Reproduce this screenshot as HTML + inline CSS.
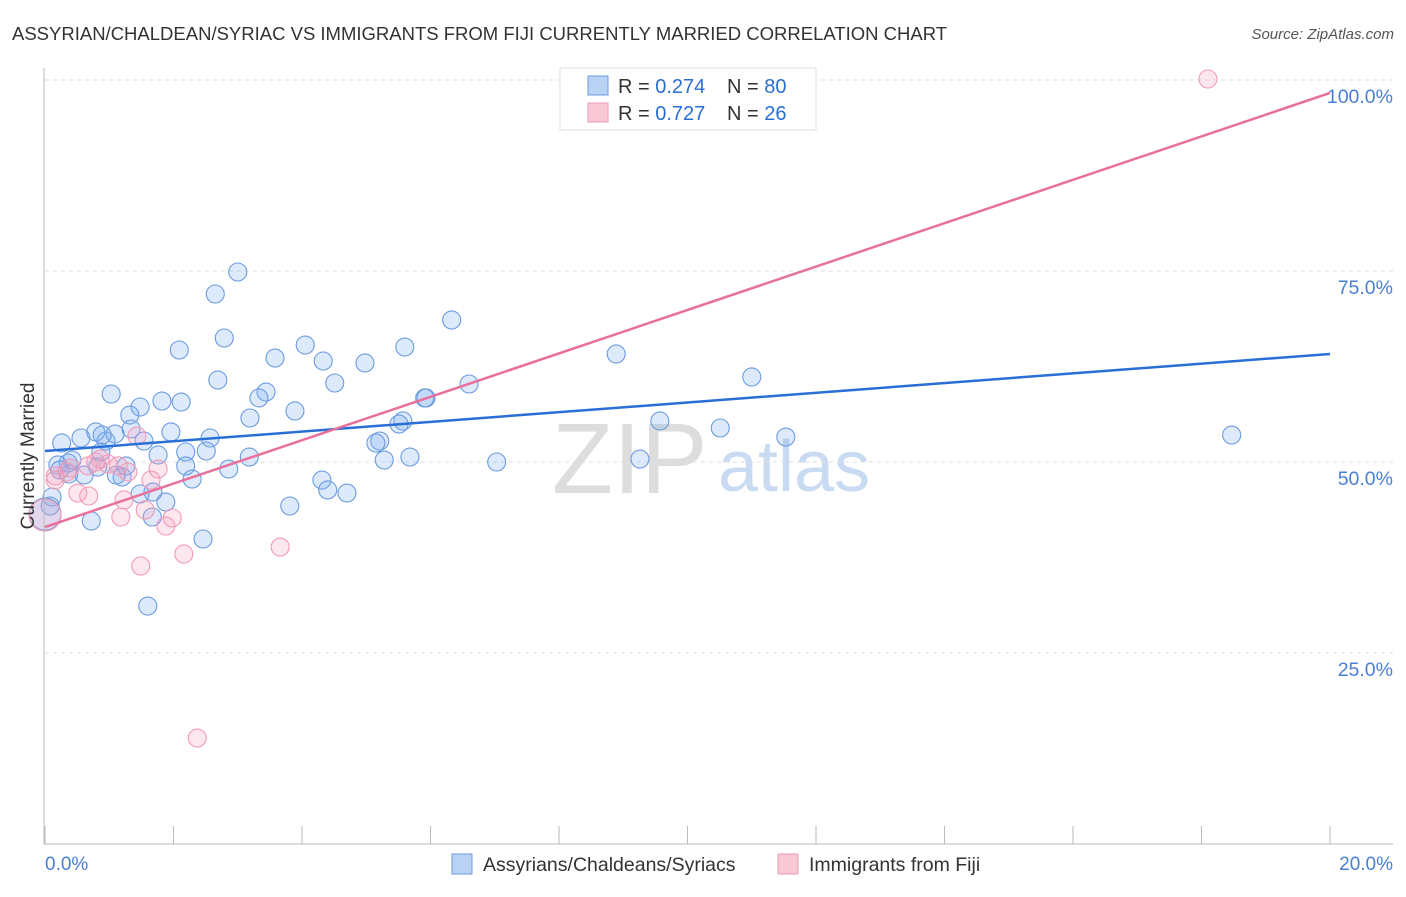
<!DOCTYPE html>
<html><head><meta charset="utf-8"><style>
body{margin:0;background:#fff;font-family:"Liberation Sans",sans-serif}
svg text{font-family:"Liberation Sans",sans-serif}
</style></head><body>
<svg id="c" width="1406" height="892">
<text x="12" y="40" font-size="18.5" fill="#333">ASSYRIAN/CHALDEAN/SYRIAC VS IMMIGRANTS FROM FIJI CURRENTLY MARRIED CORRELATION CHART</text>
<text x="1394" y="39" font-size="15" fill="#555" font-style="italic" text-anchor="end">Source: ZipAtlas.com</text>
<text x="552" y="493" font-size="100" fill="#ddd" font-family="Liberation Serif">ZIP</text>
<text x="718" y="491" font-size="72" fill="#c9daf3">atlas</text>
<g id="grid"></g><g id="marks"></g>
<line x1="44" y1="68" x2="44" y2="844" stroke="#bbb"/>
<line x1="44" y1="844" x2="1393" y2="844" stroke="#bbb"/>
<text x="34" y="456" font-size="19" fill="#333" transform="rotate(-90 34 456)" text-anchor="middle">Currently Married</text>
<text x="45" y="870" font-size="19" fill="#4a7fd6">0.0%</text>
<text x="1393" y="870" font-size="19" fill="#4a7fd6" text-anchor="end">20.0%</text>
<g>
<rect x="560" y="68" width="256" height="62" fill="#fff" stroke="#ddd"/>
<rect x="588" y="76" width="20" height="19" fill="#b9d3f5" stroke="#6a9be0"/>
<rect x="588" y="103" width="20" height="19" fill="#f9c8d6" stroke="#ef9ab3"/>
<text x="618" y="93" font-size="20" fill="#333">R = <tspan fill="#2a6fd6">0.274</tspan><tspan x="727">N = </tspan><tspan fill="#2a6fd6">80</tspan></text>
<text x="618" y="120" font-size="20" fill="#333">R = <tspan fill="#2a6fd6">0.727</tspan><tspan x="727">N = </tspan><tspan fill="#2a6fd6">26</tspan></text>
</g>
<g>
<rect x="452" y="854" width="20" height="20" fill="#b9d3f5" stroke="#6a9be0"/>
<text x="483" y="871" font-size="19.5" fill="#333">Assyrians/Chaldeans/Syriacs</text>
<rect x="778" y="854" width="20" height="20" fill="#f9c8d6" stroke="#ef9ab3"/>
<text x="809" y="871" font-size="19.5" fill="#333">Immigrants from Fiji</text>
</g>
</svg>
<script>
const yTicks=[25,50,75,100];
const xTicks=[0,2,4,6,8,10,12,14,16,18,20];
const blueX=[3.00,2.65,2.79,2.09,6.33,4.05,5.60,3.58,4.33,4.98,8.89,11.00,2.69,4.51,6.60,3.44,1.03,1.82,2.12,1.48,3.33,5.93,5.91,3.89,1.32,3.19,9.57,5.57,5.51,10.51,1.96,1.34,0.79,0.95,1.09,2.57,0.56,0.26,11.53,18.47,5.21,5.15,1.54,2.51,0.87,2.19,1.76,3.18,0.42,5.68,5.28,9.26,7.03,0.20,0.36,2.19,1.26,2.86,0.61,1.20,2.29,0.37,4.31,1.68,1.48,4.40,4.70,0.11,1.88,3.81,1.67,0.72,2.46,1.60,0,0.08,0.82,1.11,0.23,0.89];
const blueY=[74.87,71.99,66.23,64.66,68.59,65.31,65.05,63.61,63.22,62.96,64.14,61.13,60.73,60.34,60.21,59.16,58.90,57.98,57.85,57.20,58.38,58.38,58.38,56.68,56.15,55.76,55.37,55.37,54.97,54.45,53.93,54.32,53.93,52.75,53.66,53.14,53.14,52.49,53.27,53.53,52.75,52.49,52.75,51.44,51.31,51.31,50.92,50.65,50.26,50.65,50.26,50.39,50.00,49.61,49.87,49.48,49.48,49.08,48.30,48.04,47.77,48.43,47.64,46.07,45.81,46.34,45.94,45.42,44.76,44.24,42.80,42.28,39.92,31.15,43.19,44.24,49.35,48.30,48.95,53.53];
const blueBig=[74];
const pinkX=[18.10,1.43,0.79,0.98,1.14,1.29,1.76,0.67,0.39,0.16,1.65,0.51,0.68,1.23,1.56,1.98,1.18,1.88,3.66,2.16,1.49,2.37,0,0.86,0.34,0.16];
const pinkY=[100.13,53.40,50.00,49.74,49.48,48.69,49.08,49.48,49.21,48.17,47.64,45.94,45.55,45.03,43.72,42.67,42.80,41.62,38.87,37.96,36.39,13.87,43.06,50.39,48.69,47.64];
const pinkBig=[22];
const blueTrend=[51.44,64.14];
const pinkTrend=[41.49,98.30];
const NS="http://www.w3.org/2000/svg";
const X=v=>45+v/20*1285, Y=v=>844-v*7.64;
const grid=document.getElementById('grid'), marks=document.getElementById('marks');
function mk(tag,at,parent){const e=document.createElementNS(NS,tag);for(const k in at)e.setAttribute(k,at[k]);parent.appendChild(e);return e;}
yTicks.forEach(t=>{
 const l=mk('line',{x1:45,x2:1393,y1:Y(t),y2:Y(t),stroke:'#ddd','stroke-dasharray':'4,4'},grid);
 
 
 const tx=mk('text',{x:1393,y:Y(t)+23,'font-size':19.5,fill:'#4a7fd6','text-anchor':'end'},grid);
 tx.textContent=t.toFixed(1)+'%';
 
 
});
xTicks.forEach(t=>{
 const l=mk('line',{x1:X(t),x2:X(t),y1:826,y2:844,stroke:'#bbb'},grid);
 
 
});
function pts(xs,ys,big,fill,stroke,name){
 xs.forEach((x,i)=>{
  const c=mk('circle',{cx:X(x),cy:Y(ys[i]),r:big.includes(i)?16:9,fill:fill,stroke:stroke,'stroke-width':1.1},marks);
  
  
 });
}
pts(blueX,blueY,blueBig,'rgba(120,170,240,0.25)','#6b9be0','blue-point');
pts(pinkX,pinkY,pinkBig,'rgba(245,160,190,0.25)','#f29ab5','pink-point');
const bl=mk('line',{x1:X(0),y1:Y(blueTrend[0]),x2:X(20),y2:Y(blueTrend[1]),stroke:'#2a6fd6','stroke-width':2.5},marks);


const pl=mk('line',{x1:X(0),y1:Y(pinkTrend[0]),x2:X(20),y2:Y(pinkTrend[1]),stroke:'#e8709a','stroke-width':2.5},marks);


</script>
</body></html>
